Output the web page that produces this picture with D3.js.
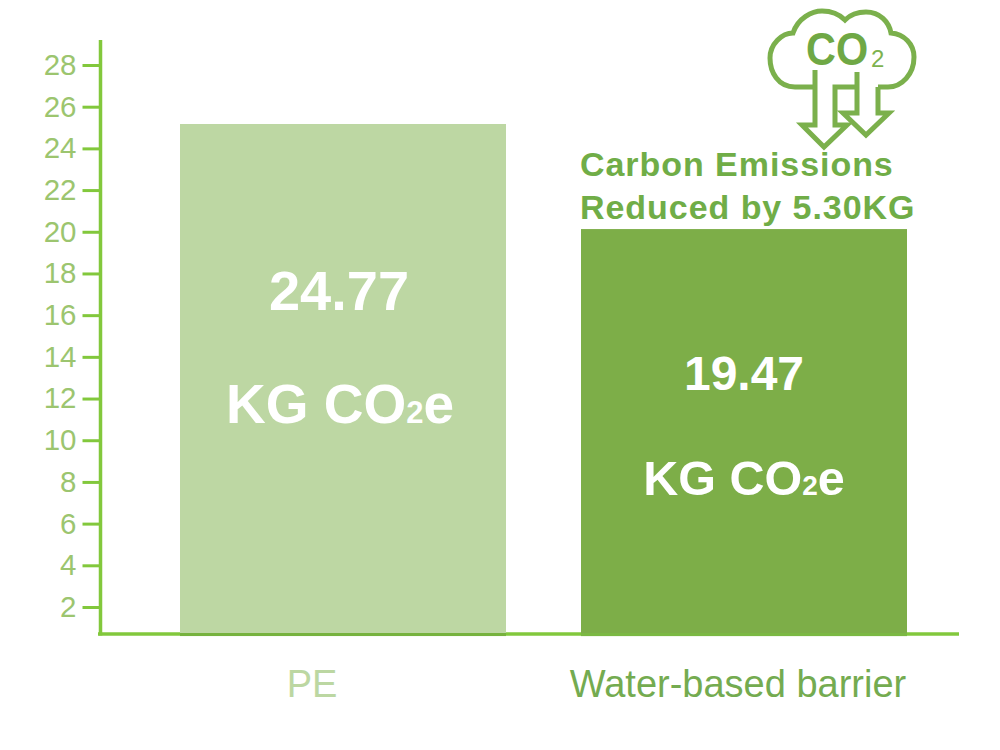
<!DOCTYPE html>
<html><head><meta charset="utf-8">
<script src="https://cdn.jsdelivr.net/npm/d3@7"></script>
<style>
html,body{margin:0;padding:0;background:#fff}
svg{display:block}
text{font-family:"Liberation Sans",Arial,sans-serif}
</style></head><body>
<svg id="c" width="1000" height="750"></svg>
<script>
const categories = ["PE", "Water-based barrier"];
// bar heights as read against the drawn axis
const barValues = [25.17, 20.13];
const valueLabels = ["24.77", "19.47"];
const unitLabel = ["KG CO", "2", "e"];
const tickValues = [2,4,6,8,10,12,14,16,18,20,22,24,26,28];
const annotation = ["Carbon Emissions", "Reduced by 5.30KG"];
const axisBase = 0.7;

const svg = d3.select("#c");
const y = d3.scaleLinear().domain([2,28]).range([607,65]);
const x = d3.scaleBand().domain(categories).range([180,907]).paddingInner(75/401).paddingOuter(0);
const base = y(axisBase);
const axisCol = "#82c83c", tickText = "#9cc56f";
const barCol = ["#bdd7a3", "#7dae48"], catCol = ["#bcd7a2", "#74ab50"];
const throughCol = ["#76b23e", "#7bb843"];
const layout = [
  {fs:56, fs2:55, y1:310, y2:423, sub:31, dx:-4, catDx:-31},
  {fs:48, fs2:48.5, y1:390, y2:495, sub:28, dx:0, catDx:-6}
];

// baseline
svg.append("line").attr("x1",98).attr("x2",959).attr("y1",base).attr("y2",base)
  .attr("stroke",axisCol).attr("stroke-width",3.5);

// y axis
const gy = svg.append("g").attr("transform","translate(100.5,0)")
  .call(d3.axisLeft(y).tickValues(tickValues).tickSize(18).tickPadding(6).tickSizeOuter(0).tickFormat(d3.format("d")));
gy.select(".domain").remove();
gy.append("line").attr("y1",40).attr("y2",base+1.5).attr("stroke",axisCol).attr("stroke-width",3.5);
gy.selectAll(".tick line").attr("stroke",axisCol).attr("stroke-width",3);
gy.selectAll(".tick text").attr("fill",tickText).attr("font-size",29.5).attr("font-family",'"Liberation Sans"');

// bars
svg.selectAll("rect.bar").data(categories).join("rect").attr("class","bar")
  .attr("x",d=>x(d)).attr("width",x.bandwidth())
  .attr("y",(d,i)=>y(barValues[i])).attr("height",(d,i)=>base+2-y(barValues[i]))
  .attr("fill",(d,i)=>barCol[i]);
// baseline seen through the bars
svg.selectAll("line.thru").data(categories).join("line").attr("class","thru")
  .attr("x1",d=>x(d)).attr("x2",d=>x(d)+x.bandwidth()).attr("y1",base+0.5).attr("y2",base+0.5)
  .attr("stroke",(d,i)=>throughCol[i]).attr("stroke-width",3);

// value labels
categories.forEach((c,i)=>{
  const cx = x(c)+x.bandwidth()/2, L = layout[i];
  svg.append("text").attr("x",cx+L.dx).attr("y",L.y1).attr("text-anchor","middle")
    .attr("font-size",L.fs).attr("font-weight",700).attr("fill","#fff").text(valueLabels[i]);
  const t = svg.append("text").attr("x",cx+L.dx+(i?0:1)).attr("y",L.y2).attr("text-anchor","middle")
    .attr("font-size",L.fs2).attr("font-weight",700).attr("fill","#fff");
  t.append("tspan").text(unitLabel[0]);
  t.append("tspan").attr("font-size",L.sub).text(unitLabel[1]);
  t.append("tspan").text(unitLabel[2]);
  svg.append("text").attr("x",cx+L.catDx).attr("y",697).attr("text-anchor","middle")
    .attr("font-size",38).attr("fill",catCol[i]).text(c);
});

// annotation
svg.selectAll("text.ann").data(annotation).join("text").attr("class","ann")
  .attr("x",580).attr("y",(d,i)=>176+i*43).attr("font-size",34).attr("font-weight",700)
  .attr("letter-spacing",0.95).attr("fill","#70ad47").text(d=>d);

// CO2 cloud icon
const ic = svg.append("g").attr("fill","none").attr("stroke","#7bb04c").attr("stroke-width",5).attr("stroke-linejoin","miter");
ic.append("path").attr("d","M815 87 H795 C778 87 770 72 770 58 C770 44 782 33 793 33 C798 18 812 11 822 11 C832 11 840 15 845 20 C850 15 858 12 866 12 C880 12 889 22 891 33 C904 34 914 44 914 57 C914 74 902 87 888 87 H878");
ic.append("path").attr("d","M815 70 V125 H802 L824 147 L847 125 H835 V87 H857");
ic.append("path").attr("d","M857 72 V113 H843 L866 135 L889 113 H878 V87");
svg.append("text").attr("transform","translate(806,65) scale(0.9,1)").attr("font-size",46).attr("font-weight",700).attr("fill","#6fa845").text("CO");
svg.append("text").attr("x",871).attr("y",67).attr("font-size",24).attr("fill","#7db24f").text("2");
</script>
</body></html>
